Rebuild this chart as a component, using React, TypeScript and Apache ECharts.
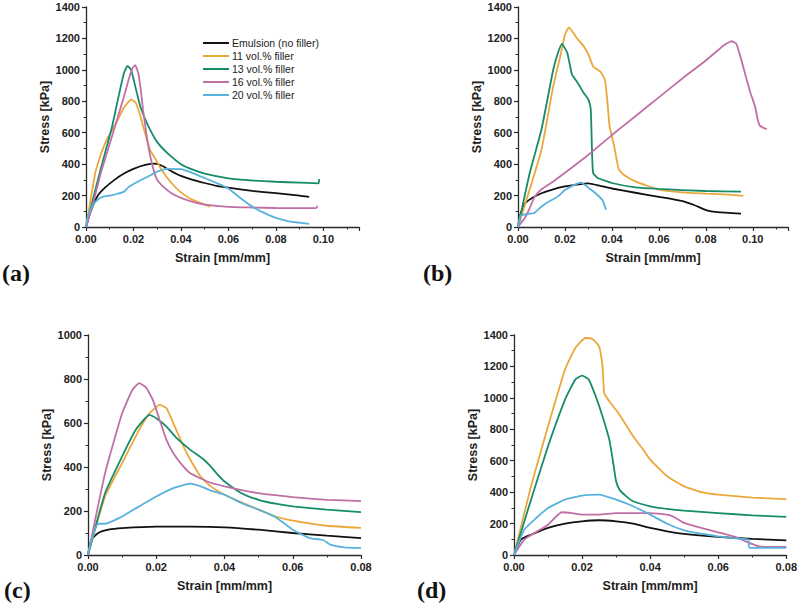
import React, { useEffect, useRef } from "react";
import * as echarts from "echarts";

const seriesNames = [
  "Emulsion (no filler)",
  "11 vol.% filler",
  "13 vol.% filler",
  "16 vol.% filler",
  "20 vol.% filler",
];
const colors = ["#111111", "#EBA83A", "#178C6A", "#C070A5", "#58B2DC"];
const panelLabels = ["(a)", "(b)", "(c)", "(d)"];
const xMaxes = [0.115, 0.115, 0.08, 0.08];
const yMaxes = [1400, 1400, 1000, 1400];

// Panel (a)
const aEmulsion = [[0,0],[0.002,100],[0.005,200],[0.008,250],[0.012,300],[0.016,340],[0.02,370],[0.025,395],[0.029,403],[0.032,390],[0.036,355],[0.04,325],[0.045,300],[0.05,280],[0.055,262],[0.06,250],[0.07,230],[0.08,215],[0.09,200],[0.094,192]];
const a11 = [[0,0],[0.002,180],[0.004,350],[0.006,450],[0.008,530],[0.01,590],[0.013,670],[0.016,760],[0.019,810],[0.021,790],[0.023,700],[0.025,590],[0.027,490],[0.029,440],[0.032,360],[0.036,280],[0.04,220],[0.044,180],[0.048,155],[0.0523,130]];
const a13 = [[0,0],[0.002,120],[0.005,300],[0.008,470],[0.011,640],[0.014,850],[0.016,980],[0.0175,1025],[0.019,1000],[0.021,880],[0.023,760],[0.026,650],[0.03,540],[0.035,460],[0.04,400],[0.045,365],[0.05,340],[0.06,310],[0.07,296],[0.08,288],[0.09,282],[0.098,278],[0.0982,305]];
const a16 = [[0,0],[0.003,150],[0.006,330],[0.01,530],[0.013,680],[0.016,830],[0.018,940],[0.0195,1010],[0.0207,1030],[0.022,980],[0.023,880],[0.024,750],[0.025,640],[0.026,535],[0.028,390],[0.03,300],[0.033,250],[0.036,215],[0.04,185],[0.045,160],[0.05,143],[0.06,128],[0.07,124],[0.08,121],[0.09,120],[0.097,121],[0.0975,135]];
const a20 = [[0,0],[0.001,80],[0.003,140],[0.005,175],[0.007,192],[0.01,200],[0.013,210],[0.016,225],[0.018,255],[0.022,290],[0.026,320],[0.03,352],[0.034,370],[0.04,368],[0.045,343],[0.05,312],[0.055,280],[0.06,245],[0.065,185],[0.07,130],[0.075,90],[0.08,58],[0.085,38],[0.094,20]];

// Panel (b)
const bEmulsion = [[0,0],[0.001,80],[0.003,150],[0.006,185],[0.01,215],[0.015,240],[0.02,258],[0.025,270],[0.03,278],[0.035,262],[0.04,245],[0.05,218],[0.06,192],[0.07,165],[0.075,140],[0.08,108],[0.085,94],[0.095,85]];
const b11 = [[0,0],[0.005,240],[0.01,492],[0.015,895],[0.018,1086],[0.02,1224],[0.0217,1270],[0.025,1203],[0.028,1150],[0.03,1097],[0.032,1022],[0.035,990],[0.037,938],[0.038,810],[0.039,640],[0.04,577],[0.041,513],[0.042,428],[0.043,365],[0.045,333],[0.05,290],[0.06,238],[0.07,220],[0.08,212],[0.09,206],[0.096,198]];
const b13 = [[0,0],[0.005,344],[0.01,620],[0.015,1001],[0.017,1107],[0.0187,1165],[0.021,1107],[0.023,970],[0.025,927],[0.028,853],[0.03,810],[0.031,747],[0.0315,492],[0.032,344],[0.034,312],[0.04,280],[0.05,252],[0.06,242],[0.08,229],[0.095,225]];
const b16 = [[0,0],[0.003,60],[0.005,120],[0.007,190],[0.01,240],[0.015,290],[0.02,345],[0.03,460],[0.04,585],[0.05,705],[0.06,825],[0.07,945],[0.08,1060],[0.088,1160],[0.091,1182],[0.093,1165],[0.095,1070],[0.097,960],[0.099,855],[0.101,765],[0.102,690],[0.103,645],[0.105,628],[0.106,624]];
const b20 = [[0,0],[0.001,70],[0.003,80],[0.007,90],[0.01,130],[0.013,160],[0.017,195],[0.02,235],[0.024,268],[0.027,283],[0.03,250],[0.033,215],[0.036,170],[0.0375,110]];

// Panel (c)
const cEmulsion = [[0,0],[0.001,70],[0.003,100],[0.006,115],[0.01,122],[0.02,129],[0.03,129],[0.04,126],[0.05,115],[0.06,100],[0.07,88],[0.08,77]];
const c11 = [[0,0],[0.005,266],[0.01,418],[0.015,569],[0.018,644],[0.021,682],[0.023,667],[0.025,599],[0.028,493],[0.03,433],[0.033,357],[0.036,312],[0.04,274],[0.045,239],[0.05,206],[0.055,175],[0.06,156],[0.07,133],[0.08,123]];
const c13 = [[0,0],[0.005,281],[0.01,448],[0.014,569],[0.018,637],[0.02,622],[0.023,584],[0.026,531],[0.03,478],[0.034,433],[0.036,402],[0.038,365],[0.04,334],[0.045,281],[0.05,251],[0.055,233],[0.06,221],[0.07,206],[0.08,195]];
const c16 = [[0,0],[0.005,372],[0.01,644],[0.013,750],[0.015,781],[0.017,762],[0.019,705],[0.021,614],[0.023,523],[0.025,463],[0.028,402],[0.03,372],[0.035,334],[0.04,312],[0.05,281],[0.06,263],[0.07,251],[0.08,245]];
const c20 = [[0,0],[0.001,70],[0.003,142],[0.005,142],[0.008,160],[0.01,175],[0.015,221],[0.02,266],[0.025,304],[0.03,324],[0.033,312],[0.036,293],[0.04,274],[0.045,236],[0.05,206],[0.055,172],[0.06,115],[0.065,77],[0.069,67],[0.071,47],[0.075,35],[0.08,32]];

// Panel (d)
const dEmulsion = [[0,0],[0.002,98],[0.005,129],[0.01,172],[0.015,199],[0.02,214],[0.025,221],[0.03,214],[0.035,199],[0.04,172],[0.045,151],[0.05,134],[0.06,115],[0.07,102],[0.08,93]];
const d11 = [[0,0],[0.005,437],[0.01,819],[0.015,1180],[0.018,1317],[0.021,1381],[0.023,1375],[0.025,1328],[0.026,1200],[0.0265,1031],[0.028,978],[0.031,893],[0.035,755],[0.038,670],[0.04,607],[0.045,501],[0.05,437],[0.055,400],[0.06,384],[0.07,365],[0.08,355]];
const d13 = [[0,0],[0.005,352],[0.01,692],[0.015,989],[0.018,1116],[0.02,1141],[0.022,1116],[0.024,1010],[0.026,883],[0.028,734],[0.029,607],[0.03,469],[0.031,416],[0.033,373],[0.035,342],[0.04,310],[0.045,293],[0.05,282],[0.06,267],[0.07,252],[0.08,242]];
const d16 = [[0,0],[0.003,98],[0.006,140],[0.01,193],[0.014,272],[0.017,267],[0.02,257],[0.025,257],[0.03,267],[0.04,267],[0.045,257],[0.047,242],[0.05,204],[0.055,172],[0.06,144],[0.065,115],[0.068,87],[0.072,55],[0.08,51]];
const d20 = [[0,0],[0.003,161],[0.006,225],[0.01,299],[0.015,352],[0.02,378],[0.025,384],[0.03,352],[0.035,310],[0.04,257],[0.045,199],[0.05,157],[0.055,136],[0.06,119],[0.065,106],[0.0688,98],[0.0692,45],[0.08,45]];

const panels = [
  [aEmulsion, a11, a13, a16, a20],
  [bEmulsion, b11, b13, b16, b20],
  [cEmulsion, c11, c13, c16, c20],
  [dEmulsion, d11, d13, d16, d20],
];

const FONT = "'Liberation Sans', Arial, sans-serif";

export default function App() {
  const ref = useRef<HTMLDivElement>(null);
  useEffect(() => {
    if (!ref.current) return;
    const chart = echarts.init(ref.current, null, { renderer: "svg" });
    const grids = [
      { left: 86, top: 7, width: 273, height: 220 },
      { left: 518, top: 7, width: 270, height: 220 },
      { left: 88, top: 335, width: 273, height: 220 },
      { left: 514, top: 335, width: 273, height: 220 },
    ];
    const axisLine = { show: true, lineStyle: { color: "#2a2a2a", width: 1.3 } };
    const xAxis = grids.map((_, i) => ({
      type: "value",
      gridIndex: i,
      min: 0,
      max: xMaxes[i],
      interval: 0.02,
      name: "Strain [mm/mm]",
      nameLocation: "middle",
      nameGap: 24,
      nameTextStyle: { fontFamily: FONT, fontWeight: "bold", fontSize: 12.5, color: "#222" },
      axisLine,
      axisTick: { show: true, length: 4, lineStyle: { color: "#2a2a2a", width: 1.2 } },
      minorTick: { show: true, splitNumber: 2, length: 2.5, lineStyle: { color: "#2a2a2a", width: 1 } },
      splitLine: { show: false },
      axisLabel: {
        fontFamily: FONT,
        fontWeight: "bold",
        fontSize: 11,
        color: "#222",
        margin: 6,
        showMaxLabel: xMaxes[i] === 0.08,
        formatter: (v: number) => v.toFixed(2),
      },
    }));
    const yAxis = grids.map((_, i) => ({
      type: "value",
      gridIndex: i,
      min: 0,
      max: yMaxes[i],
      interval: 200,
      name: "Stress [kPa]",
      nameLocation: "middle",
      nameGap: 31,
      nameTextStyle: { fontFamily: FONT, fontWeight: "bold", fontSize: 12.5, color: "#222" },
      axisLine,
      axisTick: { show: true, length: 4, lineStyle: { color: "#2a2a2a", width: 1.2 } },
      minorTick: { show: true, splitNumber: 2, length: 2.5, lineStyle: { color: "#2a2a2a", width: 1 } },
      splitLine: { show: false },
      axisLabel: {
        fontFamily: FONT,
        fontWeight: "bold",
        fontSize: 11,
        color: "#222",
        margin: 6,
        formatter: (v: number) => String(v),
      },
    }));
    const series: any[] = [];
    panels.forEach((panel, p) => {
      panel.forEach((data, s) => {
        series.push({
          type: "line",
          name: seriesNames[s],
          xAxisIndex: p,
          yAxisIndex: p,
          data,
          showSymbol: false,
          symbol: "none",
          smooth: 0.15,
          lineStyle: { color: colors[s], width: 1.8 },
          itemStyle: { color: colors[s] },
          z: 2 + s,
        });
      });
    });
    const labelPos = [
      [2, 273],
      [423, 273],
      [4, 590],
      [417, 590],
    ];
    chart.setOption({
      animation: false,
      backgroundColor: "#ffffff",
      grid: grids,
      xAxis,
      yAxis,
      legend: {
        data: seriesNames,
        orient: "vertical",
        left: 203,
        top: 37,
        padding: 0,
        itemGap: 1,
        itemWidth: 26,
        itemHeight: 2,
        icon: "rect",
        selectedMode: false,
        textStyle: { fontFamily: FONT, fontSize: 10.5, color: "#222", lineHeight: 12, padding: [0, 0, 0, -2] },
      },
      graphic: panelLabels.map((t, i) => ({
        type: "text",
        x: labelPos[i][0],
        y: labelPos[i][1],
        style: {
          text: t,
          fontFamily: "'Liberation Serif', 'Times New Roman', serif",
          fontWeight: "bold",
          fontSize: 24,
          fill: "#111",
          verticalAlign: "middle",
        },
      })),
      series,
    });
    return () => chart.dispose();
  }, []);
  return (
    <div
      ref={ref}
      style={{ position: "absolute", left: 0, top: 0, width: 800, height: 614 }}
    />
  );
}
